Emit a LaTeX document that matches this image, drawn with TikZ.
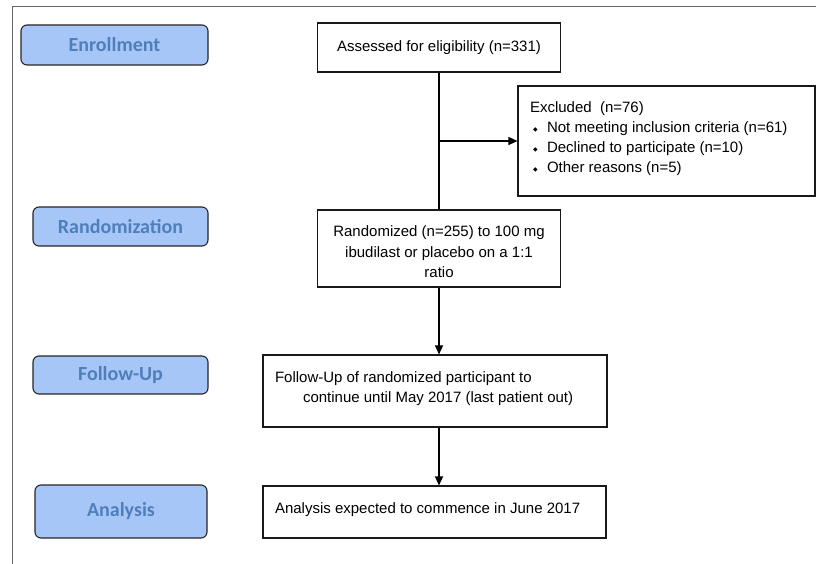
\documentclass[tikz,border=0pt]{standalone}
\usepackage{fontspec}
\setmainfont{Liberation Sans}
\newfontfamily\labfont{Carlito}
\newfontfamily\symfont{DejaVu Sans}
\usetikzlibrary{arrows.meta}
\definecolor{labfill}{HTML}{A7C6F8}
\definecolor{labtext}{HTML}{4F7FBA}
\definecolor{framegray}{HTML}{666666}
\newcommand{\bul}{\hspace*{3pt}\makebox[14pt][l]{\raisebox{1pt}{\symfont\fontsize{6}{6}\selectfont ◆}}}
% \flowtext{height}{width}{top gap}{alignment}{content}
\newcommand{\flowtext}[5]{\parbox[c][#1][t]{#2}{\vspace*{#3}#4#5}}
\begin{document}
\begin{tikzpicture}[x=1pt,y=-1pt,
  labbox/.style={draw=black!85, line width=1.1pt, fill=labfill, rounded corners=6pt,
    font=\labfont\bfseries\fontsize{20}{24}\selectfont, text=labtext, inner sep=0pt},
  flowbox/.style={draw=black!90, line width=1.1pt, fill=white, inner ysep=0pt, inner xsep=12pt,
    font=\fontsize{15}{20}\selectfont},
  conn/.style={line width=1.2pt, draw=black},
  arr/.style={conn, -{Triangle[length=9pt,width=8pt]}}
]
\useasboundingbox (0,0) rectangle (816,564);
\fill[white] (0,0) rectangle (816,564);
% frame
\draw[framegray, line width=1pt] (12,564) -- (12,7) -- (816,7);

% left labels
\node[labbox, minimum width=187pt, minimum height=40pt] (lenr) at (114.5,45) {Enrollment};
\node[labbox, minimum width=175pt, minimum height=39pt] (lrand) at (120.5,226.5) {Randomization};
\node[labbox, minimum width=175pt, minimum height=38pt] (lfu) at (120.5,375) {Follow-Up};
\node[labbox, minimum width=172pt, minimum height=53pt] (lan) at (121,511.5) {Analysis};

% flow boxes
\node[flowbox, minimum width=243pt, minimum height=49pt] (assess) at (439,47.5)
  {Assessed for eligibility (n=331)};
\node[flowbox, minimum width=297pt, minimum height=110pt] (excl) at (666.5,141)
  {\flowtext{110pt}{273pt}{12.5pt}{\raggedright}{%
   \strut Excluded\ \ (n=76)\\
   \strut\bul Not meeting inclusion criteria (n=61)\\
   \strut\bul Declined to participate (n=10)\\
   \strut\bul Other reasons (n=5)}};
\node[flowbox, minimum width=243pt, minimum height=77pt] (rand) at (439,248.5)
  {\flowtext{77pt}{219pt}{13pt}{\centering}{%
   \strut Randomized (n=255) to 100 mg\\
   \strut ibudilast or placebo on a 1:1\\
   \strut ratio}};
\node[flowbox, minimum width=344pt, minimum height=72pt] (fu) at (435,391)
  {\flowtext{72pt}{320pt}{13pt}{\raggedright}{%
   \strut Follow-Up of randomized participant to\\
   \strut\hspace*{28pt}continue until May 2017 (last patient out)}};
\node[flowbox, minimum width=343pt, minimum height=52pt] (an) at (434.5,512)
  {\flowtext{52pt}{319pt}{13pt}{\raggedright}{%
   \strut Analysis expected to commence in June 2017}};

% connectors
\coordinate (br) at (439,141);
\draw[conn] (assess.south) -- (rand.north);
\draw[arr] (br) -- (excl.west);
\draw[arr] (rand.south) -- (rand.south |- fu.north);
\draw[arr] (rand.south |- fu.south) -- (rand.south |- an.north);
\end{tikzpicture}
\end{document}
